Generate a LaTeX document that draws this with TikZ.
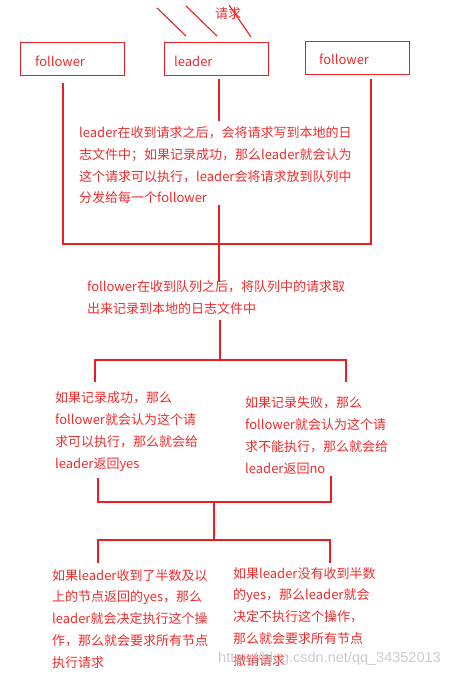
\documentclass[tikz,border=0pt]{standalone}
\usepackage{fontspec}
\newfontfamily\cjk{Noto Sans CJK SC}
\setmainfont{Liberation Sans}
\definecolor{rline}{RGB}{236,30,36}
\definecolor{rtext}{RGB}{240,45,45}
\tikzset{
  box/.style={draw=rline, line width=1.4pt, minimum width=104pt, minimum height=33pt, anchor=north west, inner sep=0pt},
  lbl/.style={text=rtext, font=\cjk\fontsize{13}{21.7}\selectfont, anchor=base west, inner sep=0pt},
  txt/.style={text=rtext, font=\cjk\fontsize{13}{21.7}\selectfont, align=left, anchor=base west, inner sep=0pt},
  wire/.style={draw=rline, line width=1.3pt},
  stroke/.style={draw=rline, line width=1.1pt}
}
\begin{document}
\begin{tikzpicture}[x=1pt,y=-1pt]
\useasboundingbox[fill=white] (0,0) rectangle (471,676);
% boxes
\node[box] (f1) at (20,42) {};
\node[box] (ld) at (164,42) {};
\node[box] (f2) at (305,41) {};
\node[lbl] (f1t) at (35,67) {follower};
\node[lbl] (ldt) at (174,67) {leader};
\node[lbl] (f2t) at (319,65) {follower};
% request strokes
\coordinate (s1a) at (157,8);  \coordinate (s1b) at (186,36);
\coordinate (s2a) at (186,6);  \coordinate (s2b) at (217,36);
\coordinate (s3a) at (229,5);  \coordinate (s3b) at (251,37);
\draw[stroke] (s1a) -- (s1b);
\draw[stroke] (s2a) -- (s2b);
\draw[stroke] (s3a) -- (s3b);
\node[text=rtext, font=\cjk\fontsize{13}{15}\selectfont, inner sep=0pt] (req) at (228,14) {请求};
% texts (anchor = baseline of the last line)
\node[txt] (t1) at (79,203) {leader在收到请求之后，会将请求写到本地的日\\志文件中；如果记录成功，那么leader就会认为\\这个请求可以执行，leader会将请求放到队列中\\分发给每一个follower};
\node[txt] (t2) at (87,313) {follower在收到队列之后，将队列中的请求取\\出来记录到本地的日志文件中};
\node[txt] (t3a) at (55,468) {如果记录成功，那么\\follower就会认为这个请\\求可以执行，那么就会给\\leader返回yes};
\node[txt] (t3b) at (245,473) {如果记录失败，那么\\follower就会认为这个请\\求不能执行，那么就会给\\leader返回no};
\node[txt] (t4a) at (52,667) {如果leader收到了半数及以\\上的节点返回的yes，那么\\leader就会决定执行这个操\\作，那么就会要求所有节点\\执行请求};
\node[txt] (t4b) at (233,665) {如果leader没有收到半数\\的yes，那么leader就会\\决定不执行这个操作，\\那么就会要求所有节点\\撤销请求};
% connector points
\coordinate (f1d) at (63,83);  \coordinate (b1l) at (63,244);
\coordinate (f2d) at (371,79); \coordinate (b1r) at (371,244);
\coordinate (ldd) at (219,79); \coordinate (t1u) at (219,121);
\coordinate (t1d) at (219,205); \coordinate (t2u) at (219,282);
\coordinate (t2d) at (220,320); \coordinate (b2m) at (220,360);
\coordinate (b2l) at (95,360);  \coordinate (b2r) at (346,360);
\coordinate (t3au) at (95,382); \coordinate (t3bu) at (346,382);
\coordinate (t3ad) at (98,478); \coordinate (t3bd) at (331,476);
\coordinate (b3l) at (98,502);  \coordinate (b3r) at (331,502);
\coordinate (b3m) at (214,502); \coordinate (b4m) at (214,540);
\coordinate (b4l) at (98,540);  \coordinate (b4r) at (330,540);
\coordinate (t4au) at (98,563); \coordinate (t4bu) at (330,563);
% connectors
\draw[wire] (f1d) -- (b1l) -- (b1r) -- (f2d);
\draw[wire] (ldd) -- (t1u);
\draw[wire] (t1d) -- (t2u);
\draw[wire] (t2d) -- (b2m);
\draw[wire] (t3au) -- (b2l) -- (b2r) -- (t3bu);
\draw[wire] (t3ad) -- (b3l) -- (b3r) -- (t3bd);
\draw[wire] (b3m) -- (b4m);
\draw[wire] (t4au) -- (b4l) -- (b4r) -- (t4bu);
% watermark
\node[text=black!25, opacity=0.8, font=\fontsize{14.5}{16}\selectfont, anchor=base west, inner sep=0pt] (wm) at (218,662) {https://blog.csdn.net/qq\_34352013};
\end{tikzpicture}
\end{document}
